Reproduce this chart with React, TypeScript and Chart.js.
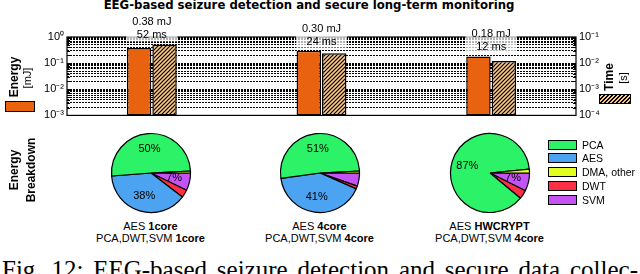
import React, { useEffect, useRef } from "react";
import { Chart, registerables } from "chart.js";

Chart.register(...registerables);

// ---------------- data ----------------
const aesMode = ["1core", "4core", "HWCRYPT"];
const procMode = ["1core", "4core", "4core"];
const energyMJ = [0.38, 0.3, 0.18];
const timeMS = [52, 24, 12];
const energyTickValues = [1, 0.1, 0.01, 0.001];
const energyTickLabels = ["10⁰", "10⁻¹", "10⁻²", "10⁻³"];
const timeTickValues = [0.1, 0.01, 0.001, 0.0001];
const timeTickLabels = ["10⁻¹", "10⁻²", "10⁻³", "10⁻⁴"];

const legendNames = ["PCA", "AES", "DMA, other", "DWT", "SVM"];
const pcaShare = [50.4, 51.4, 87.4];
const aesShare = [38.4, 41.2, 0];
const dmaShare = [0.8, 0.8, 1.6];
const dwtShare = [3.2, 1.2, 3.6];
const svmShare = [7.2, 5.4, 7.4];

// ---------------- style ----------------
const ORANGE = "#E8620F";
const HATCH_BG = "#FCC98A";
const C_PCA = "#2BF267";
const C_AES = "#4BA3F2";
const C_DMA = "#E2FF1F";
const C_DWT = "#FF2F45";
const C_SVM = "#C452F5";
const legendColors = [C_PCA, C_AES, C_DMA, C_DWT, C_SVM];
const SANS = '"Liberation Sans", Arial, sans-serif';
const pieCenters = [150.5, 319.5, 489.5];
const pieCY = 173;

function makeHatch(): CanvasPattern {
  const s = 4;
  const c = document.createElement("canvas");
  c.width = s;
  c.height = s;
  const g = c.getContext("2d")!;
  g.fillStyle = HATCH_BG;
  g.fillRect(0, 0, s, s);
  g.strokeStyle = "#000";
  g.lineWidth = 1.2;
  g.beginPath();
  g.moveTo(0, s);
  g.lineTo(s, 0);
  g.moveTo(-1, 1);
  g.lineTo(1, -1);
  g.moveTo(s - 1, s + 1);
  g.lineTo(s + 1, s - 1);
  g.stroke();
  return g.createPattern(c, "repeat")!;
}

function logTicks(min: number, max: number) {
  const out: { value: number }[] = [];
  const e0 = Math.round(Math.log10(min));
  const e1 = Math.round(Math.log10(max));
  for (let e = e0; e < e1; e++) {
    for (let k = 1; k < 10; k++) out.push({ value: k * Math.pow(10, e) });
  }
  out.push({ value: Math.pow(10, e1) });
  return out;
}

function isPow10(v: number) {
  const l = Math.log10(v);
  return Math.abs(l - Math.round(l)) < 1e-6;
}

function labelFor(values: number[], labels: string[], v: number) {
  for (let i = 0; i < values.length; i++) {
    if (Math.abs(Math.log10(values[i]) - Math.log10(v)) < 1e-6) return labels[i];
  }
  return "";
}

function BarPanel() {
  const ref = useRef<HTMLCanvasElement>(null);
  useEffect(() => {
    const canvas = ref.current!;
    const hatch = makeHatch();
    const framePlugin = {
      id: "frame",
      afterDatasetsDraw(chart: any) {
        const { ctx, chartArea: a } = chart;
        const ys = chart.scales.y;
        ctx.save();
        ctx.strokeStyle = "#000";
        ctx.lineWidth = 1;
        ys.ticks.forEach((t: any) => {
          const py = Math.round(ys.getPixelForValue(t.value)) + 0.5;
          const len = isPow10(t.value) ? 5 : 3;
          ctx.beginPath();
          ctx.moveTo(a.left, py);
          ctx.lineTo(a.left + len, py);
          ctx.moveTo(a.right, py);
          ctx.lineTo(a.right - len, py);
          ctx.stroke();
        });
        ctx.lineWidth = 1.2;
        ctx.strokeRect(a.left, a.top, a.right - a.left, a.bottom - a.top);
        ctx.restore();
      },
      afterDraw(chart: any) {
        const { ctx } = chart;
        const xs = chart.scales.x;
        const ys = chart.scales.y;
        const y2 = chart.scales.y2;
        ctx.save();
        ctx.font = `11px ${SANS}`;
        ctx.textAlign = "center";
        ctx.textBaseline = "middle";
        energyMJ.forEach((e, i) => {
          const cx = xs.getPixelForValue(i);
          const top = Math.min(ys.getPixelForValue(e), y2.getPixelForValue(timeMS[i] / 1000));
          const l2 = top - 9;
          const l1 = top - 22;
          const t1 = e.toFixed(2) + " mJ";
          const t2 = timeMS[i] + " ms";
          const w = Math.max(ctx.measureText(t1).width, ctx.measureText(t2).width) + 12;
          ctx.fillStyle = "rgba(255,255,255,0.7)";
          ctx.fillRect(cx - w / 2, l1 - 7, w, l2 - l1 + 13);
          ctx.fillStyle = "#000";
          ctx.fillText(t1, cx, l1);
          ctx.fillText(t2, cx, l2);
        });
        ctx.restore();
      },
    };
    const tickFont = { family: SANS, size: 11 };
    const chart = new Chart(canvas, {
      type: "bar",
      data: {
        labels: aesMode,
        datasets: [
          {
            label: "Energy",
            data: energyMJ,
            yAxisID: "y",
            backgroundColor: ORANGE,
            borderColor: "#000",
            borderWidth: 1.5,
            borderSkipped: false,
            categoryPercentage: 0.3,
            barPercentage: 0.96,
          },
          {
            label: "Time",
            data: timeMS.map((v) => v / 1000),
            yAxisID: "y2",
            backgroundColor: hatch as any,
            borderColor: "#000",
            borderWidth: 1.5,
            borderSkipped: false,
            categoryPercentage: 0.3,
            barPercentage: 0.96,
          },
        ],
      },
      options: {
        responsive: false,
        animation: false,
        events: [],
        layout: { padding: { top: 37, bottom: 8, left: 0, right: 0 } },
        plugins: { legend: { display: false }, tooltip: { enabled: false }, title: { display: false } },
        scales: {
          x: { display: false, offset: true },
          y: {
            type: "logarithmic",
            position: "left",
            min: 0.001,
            max: 1,
            afterBuildTicks: (s: any) => {
              s.ticks = logTicks(s.min, s.max);
            },
            afterFit: (s: any) => {
              s.width = 67;
            },
            grid: { color: "#000", lineWidth: 1, drawTicks: false },
            border: { display: false, dash: [2, 1] },
            ticks: {
              autoSkip: false,
              padding: 3,
              color: "#000",
              font: tickFont,
              callback: (v: any) => labelFor(energyTickValues, energyTickLabels, Number(v)),
            },
          },
          y2: {
            type: "logarithmic",
            position: "right",
            min: 0.0001,
            max: 0.1,
            afterBuildTicks: (s: any) => {
              s.ticks = logTicks(s.min, s.max);
            },
            afterFit: (s: any) => {
              s.width = 64;
            },
            grid: { drawOnChartArea: false, drawTicks: false },
            border: { display: false },
            ticks: {
              autoSkip: false,
              padding: 3,
              color: "#000",
              font: tickFont,
              callback: (v: any) => labelFor(timeTickValues, timeTickLabels, Number(v)),
            },
          },
        },
      } as any,
      plugins: [framePlugin],
    });
    return () => chart.destroy();
  }, []);
  return <canvas ref={ref} width={640} height={125} style={{ position: "absolute", left: 0, top: 0 }} />;
}

function PieChart({ idx }: { idx: number }) {
  const ref = useRef<HTMLCanvasElement>(null);
  useEffect(() => {
    const canvas = ref.current!;
    const pctPlugin = {
      id: "pct",
      afterDatasetsDraw(chart: any) {
        const { ctx } = chart;
        const meta = chart.getDatasetMeta(0);
        const data: number[] = chart.data.datasets[0].data;
        const total = data.reduce((a, b) => a + b, 0);
        ctx.save();
        ctx.font = `11px ${SANS}`;
        ctx.fillStyle = "#000";
        ctx.textAlign = "center";
        ctx.textBaseline = "middle";
        meta.data.forEach((arc: any, j: number) => {
          const pct = (data[j] / total) * 100;
          if (pct < 6) return;
          const p = arc.getProps(["x", "y", "startAngle", "endAngle", "outerRadius"], true);
          const mid = (p.startAngle + p.endAngle) / 2;
          const r = p.outerRadius * 0.6;
          ctx.fillText(Math.round(pct) + "%", p.x + Math.cos(mid) * r, p.y + Math.sin(mid) * r);
        });
        ctx.restore();
      },
    };
    const chart = new Chart(canvas, {
      type: "pie",
      data: {
        labels: ["SVM", "DWT", "AES", "PCA", "DMA, other"],
        datasets: [
          {
            data: [svmShare[idx], dwtShare[idx], aesShare[idx], pcaShare[idx], dmaShare[idx]],
            backgroundColor: [C_SVM, C_DWT, C_AES, C_PCA, C_DMA],
            borderColor: "#000",
            borderWidth: 1.2,
          },
        ],
      },
      options: {
        responsive: false,
        animation: false,
        events: [],
        rotation: 90,
        radius: 39.5,
        layout: { padding: 0 },
        plugins: { legend: { display: false }, tooltip: { enabled: false } },
      } as any,
      plugins: [pctPlugin],
    });
    return () => chart.destroy();
  }, [idx]);
  return (
    <canvas
      ref={ref}
      width={90}
      height={90}
      style={{ position: "absolute", left: pieCenters[idx] - 45, top: pieCY - 45 }}
    />
  );
}

function T({
  x,
  y,
  rot,
  style,
  children,
}: {
  x: number;
  y: number;
  rot?: boolean;
  style?: React.CSSProperties;
  children: React.ReactNode;
}) {
  return (
    <div
      style={{
        position: "absolute",
        left: x,
        top: y,
        transform: `translate(-50%,-50%)${rot ? " rotate(-90deg)" : ""}`,
        whiteSpace: "nowrap",
        lineHeight: 1,
        fontFamily: SANS,
        fontSize: 11,
        color: "#000",
        ...style,
      }}
    >
      {children}
    </div>
  );
}

export default function App() {
  const boldLab: React.CSSProperties = { fontWeight: 700, fontSize: 12 };
  return (
    <div
      style={{
        position: "absolute",
        left: 0,
        top: 0,
        width: 640,
        height: 274,
        overflow: "hidden",
        background: "#fff",
      }}
    >
      <T x={309} y={6} style={{ fontFamily: '"DejaVu Sans", sans-serif', fontWeight: 700, fontSize: 11.7 }}>
        EEG-based seizure detection and secure long-term monitoring
      </T>
      <BarPanel />
      <T x={14} y={77} rot style={boldLab}>
        Energy
      </T>
      <T x={27} y={78} rot>
        [mJ]
      </T>
      <div
        style={{
          position: "absolute",
          left: 5,
          top: 101,
          width: 30,
          height: 11,
          boxSizing: "border-box",
          border: "1.5px solid #000",
          background: ORANGE,
        }}
      />
      <T x={609} y={77} rot style={boldLab}>
        Time
      </T>
      <T x={623} y={78} rot>
        [s]
      </T>
      <div
        style={{
          position: "absolute",
          left: 599,
          top: 94,
          width: 32,
          height: 10,
          boxSizing: "border-box",
          border: "1.5px solid #000",
          background: `repeating-linear-gradient(135deg, #000 0px, #000 1px, ${HATCH_BG} 1px, ${HATCH_BG} 2.8px)`,
        }}
      />
      <T x={14} y={170} rot style={boldLab}>
        Energy
      </T>
      <T x={31} y={170} rot style={boldLab}>
        Breakdown
      </T>
      {pieCenters.map((cx, i) => (
        <React.Fragment key={i}>
          <PieChart idx={i} />
          <T x={cx} y={226}>
            AES <b>{aesMode[i]}</b>
          </T>
          <T x={cx} y={238}>
            PCA,DWT,SVM <b>{procMode[i]}</b>
          </T>
        </React.Fragment>
      ))}
      {legendNames.map((n, i) => (
        <React.Fragment key={n}>
          <div
            style={{
              position: "absolute",
              left: 548,
              top: 139.5 + i * 13.75,
              width: 29,
              height: 10,
              boxSizing: "border-box",
              border: "1.5px solid #000",
              background: legendColors[i],
            }}
          />
          <div
            style={{
              position: "absolute",
              left: 582,
              top: 144.5 + i * 13.75,
              transform: "translateY(-50%)",
              fontFamily: SANS,
              fontSize: 10.5,
              lineHeight: 1,
              whiteSpace: "nowrap",
            }}
          >
            {n}
          </div>
        </React.Fragment>
      ))}
      <div
        style={{
          position: "absolute",
          left: 2,
          top: 256.6,
          width: 636,
          fontFamily: '"Liberation Serif", "Times New Roman", serif',
          fontSize: 25,
          lineHeight: "25px",
          textAlign: "justify",
          textAlignLast: "justify" as any,
          whiteSpace: "nowrap",
        }}
      >
        Fig. 12: EEG-based seizure detection and secure data collec-
      </div>
    </div>
  );
}
